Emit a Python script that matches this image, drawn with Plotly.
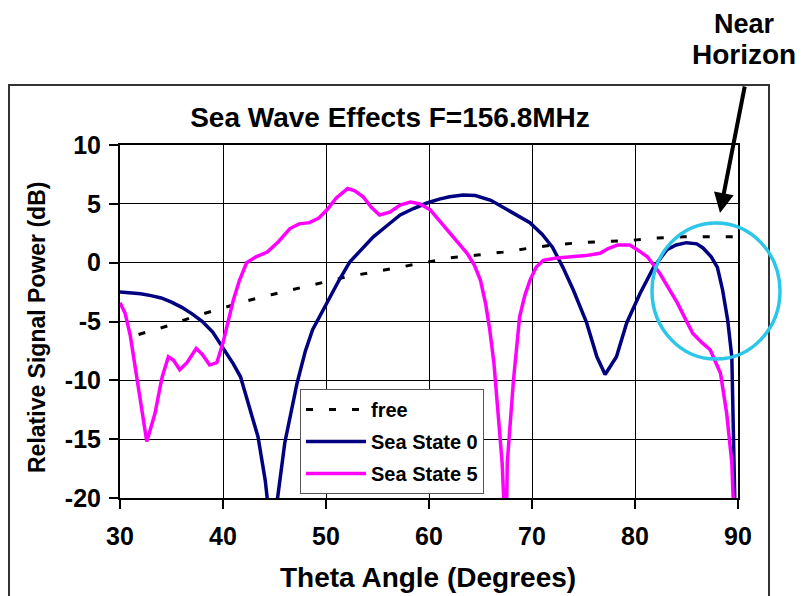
import plotly.graph_objects as go

# ---------------- data ----------------
free_x = [31.8, 34.9, 37.1, 39.5, 42.1, 44.8, 47.2, 49.6, 52.0, 54.6, 57.2, 59.6, 62.0,
          64.7, 67.2, 69.5, 72.0, 74.7, 77.3, 79.7, 82.1, 84.7, 87.1, 90.0]
free_y = [-6.1, -5.3, -4.6, -4.0, -3.3, -2.7, -2.2, -1.7, -1.2, -0.8, -0.4, 0.0, 0.4,
          0.65, 0.9, 1.2, 1.5, 1.7, 1.8, 1.9, 2.1, 2.2, 2.2, 2.2]

ss0_x = [30, 31, 32, 33, 34, 35, 36, 37, 38, 39, 40, 41, 41.7, 42.6, 43.4, 44.1, 44.3, 44.8,
         45.3, 46.0, 47.2, 48.0, 48.7, 50.1, 51.2, 52.3, 53.5, 54.6, 56.0, 57.2, 58.5, 59.8,
         61.0, 62.0, 63.3, 64.5, 66.0, 67.2, 68.5, 69.8, 71.0, 72.0, 73.0, 74.0, 75.3, 76.3,
         77.1, 78.2, 79.2, 80.5, 81.8, 83.1, 84.0, 85.0, 86.0, 86.6, 87.4, 88.0, 88.5, 89.0,
         89.4, 89.5, 89.65, 89.8]
ss0_y = [-2.5, -2.55, -2.65, -2.8, -3.0, -3.35, -3.8, -4.35, -5.0, -5.9, -7.2, -8.6, -9.7,
         -12.3, -14.8, -18.5, -20, -24, -20, -15.3, -10.2, -7.5, -5.7, -3.4, -1.6, 0.05, 1.2,
         2.2, 3.2, 4.05, 4.6, 5.07, 5.4, 5.6, 5.75, 5.7, 5.3, 4.7, 4.1, 3.4, 2.4, 1.3, -0.4,
         -2.3, -5.1, -8.0, -9.5, -8.0, -5.1, -2.6, -0.4, 1.1, 1.5, 1.7, 1.6, 1.25, 0.5, -0.4,
         -2.3, -4.9, -8.0, -12.8, -20, -25]

ss5_x = [30.0, 30.5, 31.0, 31.5, 32.0, 32.6, 33.0, 33.4, 33.8, 34.1, 34.7, 35.2, 35.8, 36.5,
         37.4, 38.0, 38.7, 39.4, 40.0, 40.5, 41.0, 41.6, 42.3, 43.2, 44.3, 45.4, 46.5, 47.4,
         48.4, 49.3, 50.1, 51.0, 52.1, 52.8, 53.6, 54.4, 55.2, 56.2, 57.2, 58.2, 59.1, 60.1,
         61.0, 61.7, 62.7, 63.7, 64.4, 65.0, 65.5, 65.9, 66.3, 66.6, 67.1, 67.25, 67.4, 67.55,
         67.6, 68.2, 68.8, 69.3, 69.8, 70.4, 71.1, 72.4, 73.7, 75.2, 76.6, 77.4, 78.3, 79.5,
         80.4, 81.2, 82.4, 83.2, 84.1, 84.9, 85.6, 86.5, 87.3, 88.3, 88.9, 89.4, 89.55, 89.7]
ss5_y = [-3.4, -4.3, -6.2, -9.0, -11.9, -15.2, -14.0, -12.8, -11.0, -9.7, -8.0, -8.3, -9.1,
         -8.5, -7.3, -7.8, -8.7, -8.5, -6.8, -5.0, -3.2, -1.5, 0.0, 0.5, 0.9, 1.8, 2.9, 3.3,
         3.4, 3.8, 4.5, 5.5, 6.3, 6.1, 5.6, 4.7, 4.05, 4.3, 4.9, 5.15, 5.0, 4.5, 3.6, 2.8, 1.8,
         0.8, -0.2, -1.5, -3.5, -5.7, -8.5, -11.4, -17, -20, -23, -20, -17, -10, -4.6, -2.8,
         -1.5, -0.4, 0.2, 0.4, 0.5, 0.6, 0.8, 1.2, 1.5, 1.5, 1.0, 0.5, -0.9, -2.1, -3.4, -4.8,
         -6.0, -6.8, -7.4, -9.4, -12.8, -17, -20, -24]

x_ticks = [30, 40, 50, 60, 70, 80, 90]
x_tick_text = ["30", "40", "50", "60", "70", "80", "90"]
y_ticks = [10, 5, 0, -5, -10, -15, -20]
y_tick_text = ["10", "5", "0", "-5", "-10", "-15", "-20"]

FONT = "Liberation Sans, Arial, sans-serif"

fig = go.Figure()
fig.add_trace(go.Scatter(x=free_x, y=free_y, mode="lines", name="free", legendgroup="a",
                         line=dict(color="black", width=3, dash="7px,16px")))
fig.add_trace(go.Scatter(x=ss0_x, y=ss0_y, mode="lines", name="Sea State 0", legendgroup="b",
                         line=dict(color="#000080", width=3.5)))
fig.add_trace(go.Scatter(x=ss5_x, y=ss5_y, mode="lines", name="Sea State 5", legendgroup="c",
                         line=dict(color="#FF00FF", width=3.5)))

# page has an 8px body margin; reference pixel coords are offset by it
OFF = 8
W, H = 805 - OFF, 596 - OFF
RL, RR, RT, RB = 120, 738, 145, 498  # plot area in reference pixels
L, R, T, B = RL - OFF, RR - OFF, RT - OFF, RB - OFF


def px(xp):
    return (xp - RL) / (RR - RL)


def py(yp):
    return (RB - yp) / (RB - RT)


axis_common = dict(showgrid=True, gridcolor="black", gridwidth=1, showline=True,
                   linecolor="black", linewidth=2, mirror=True, ticks="outside",
                   ticklen=9, tickcolor="black", tickwidth=1.5, zeroline=False,
                   tickfont=dict(family=FONT, size=25, color="black", weight="bold"))

fig.update_layout(
    width=W, height=H,
    margin=dict(l=L, r=W - R, t=T, b=H - B),
    paper_bgcolor="white", plot_bgcolor="white",
    font=dict(family=FONT, color="black"),
    title=dict(text="<b>Sea Wave Effects F=156.8MHz</b>", xref="container", yref="container",
               x=(390 - OFF) / W, y=1 - (117 - OFF) / H, xanchor="center", yanchor="middle",
               font=dict(family=FONT, size=28, color="black")),
    xaxis=dict(range=[30, 90], tickvals=x_ticks, ticktext=x_tick_text,
               ticklabelstandoff=6, **axis_common),
    yaxis=dict(range=[-20, 10], tickvals=y_ticks, ticktext=y_tick_text,
               ticklabelstandoff=3, **axis_common),
    legend=dict(x=px(300), y=py(389), xanchor="left", yanchor="top",
                bgcolor="white", bordercolor="#555555", borderwidth=1,
                itemwidth=60, tracegroupgap=3,
                font=dict(family=FONT, size=20, color="black", weight="bold")),
    showlegend=True,
)

fig.add_annotation(text="<b>Theta Angle (Degrees)</b>", xref="paper", yref="paper",
                   x=px(428), y=py(577), showarrow=False, xanchor="center", yanchor="middle",
                   font=dict(family=FONT, size=28, color="black"))
fig.add_annotation(text="<b>Relative Signal Power (dB)</b>", xref="paper", yref="paper",
                   x=px(37), y=py(328), showarrow=False, textangle=-90,
                   xanchor="center", yanchor="middle",
                   font=dict(family=FONT, size=23, color="black"))
fig.add_annotation(text="<b>Near</b>", xref="paper", yref="paper",
                   x=px(744), y=py(24), showarrow=False, xanchor="center", yanchor="middle",
                   font=dict(family=FONT, size=27, color="black"))
fig.add_annotation(text="<b>Horizon</b>", xref="paper", yref="paper",
                   x=px(744), y=py(55), showarrow=False, xanchor="center", yanchor="middle",
                   font=dict(family=FONT, size=28, color="black"))
fig.add_annotation(text="", xref="paper", yref="paper", x=px(720), y=py(213),
                   ax=25, ay=-128, showarrow=True, arrowhead=2, arrowsize=1,
                   arrowwidth=4, arrowcolor="black")

# outer frame
fig.add_shape(type="rect", xref="paper", yref="paper", x0=px(9), x1=px(769),
              y0=py(620), y1=py(85), line=dict(color="#333333", width=2), layer="below")
# highlight circle
fig.add_shape(type="circle", xref="paper", yref="paper", x0=px(652), x1=px(780),
              y0=py(359), y1=py(223), line=dict(color="#2CC6EA", width=3.5))

fig.write_html("out.html")
